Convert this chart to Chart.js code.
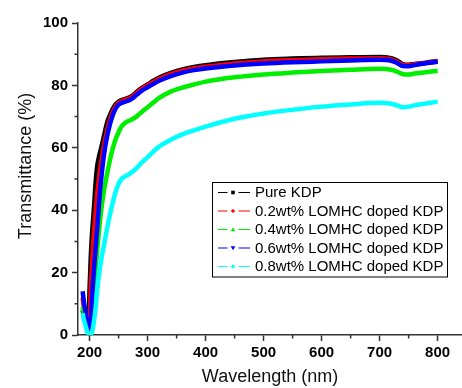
<!DOCTYPE html>
<html>
<head>
<meta charset="utf-8">
<script src="https://cdn.jsdelivr.net/npm/chart.js@4.4.0/dist/chart.umd.min.js"></script>
<style>
  html, body { margin: 0; padding: 0; background: #fff; }
  #wrap { width: 462px; height: 388px; }
</style>
</head>
<body>
<div id="wrap"><canvas id="uvChart" width="462" height="388"></canvas></div>
<script>
// wavelength (nm) and transmittance (%)
let wavelength = [188,190,193,196,198,200,202,204,206,208,210,213,216,220,225,230,235,240,245,250,255,260,265,270,275,280,285,290,300,310,320,340,360,380,400,450,500,550,600,650,700,720,730,740,750,760,780,800];
let pureKDP = [8,6,4,2,3,15,25,32,37,42,48,54,57,60,64,68,70.5,72.5,74,74.8,75.3,75.6,75.9,76.3,76.9,77.7,78.5,79.2,80.3,81.5,82.5,84,85.1,85.9,86.5,87.5,88.2,88.6,88.9,89,89.1,88.7,88,86.8,86.6,86.9,87.3,87.8];
let doped02 = [12,9,6,3,1.5,5,15,22,29,34,38.5,45,50,55.5,61,65.5,69,71.5,73.3,74.4,75,75.3,75.6,76,76.6,77.4,78.2,78.9,80,81.1,82.1,83.6,84.7,85.5,86,87,87.7,88.1,88.4,88.6,88.7,88.3,87.6,86.6,86.5,86.8,87.2,87.7];
let doped04 = [9,7,5,2.5,1,0.8,2,5,10,15,20,27,33,40,46.5,51.5,56,59.8,62.8,65,66.8,67.8,68.4,68.8,69.3,69.9,70.7,71.5,73,74.5,76,78,79.3,80.3,81.2,82.6,83.5,84.1,84.6,85,85.3,85,84.4,83.6,83.5,83.8,84.2,84.7];
let doped06 = [14,11,7,3,1.5,1,4,11,17,22,27,34,41.5,50,58,63.5,67.5,70.5,72.6,73.8,74.4,74.7,75,75.4,76,76.8,77.6,78.3,79.4,80.5,81.5,83,84.1,84.9,85.4,86.4,87,87.4,87.7,88,88.2,87.9,87.2,86.2,86.1,86.5,87.1,87.6];
let doped08 = [7,5,3,1,0.5,0.3,0.3,0.8,2.5,5,8,14,19,24,29,34,38.5,42.5,46,48.5,50,50.7,51.2,51.8,52.5,53.3,54.3,55.3,57,58.8,60.4,62.6,64.3,65.6,66.8,69.3,71,72.2,73.2,73.9,74.4,74.1,73.6,73,73.2,73.6,74.2,74.8];

let seriesNames = ['Pure KDP', '0.2wt% LOMHC doped KDP', '0.4wt% LOMHC doped KDP', '0.6wt% LOMHC doped KDP', '0.8wt% LOMHC doped KDP'];
let seriesColors = ['#000000', '#ff0000', '#00ee00', '#0000ff', '#00ffff'];
let seriesMarkers = ['square', 'circle', 'triUp', 'triDown', 'diamond'];
let xTicks = [200, 300, 400, 500, 600, 700, 800];
let xMinor = [250, 350, 450, 550, 650, 750];
let yMinor = [10, 30, 50, 70, 90];

let allSeries = [pureKDP, doped02, doped04, doped06, doped08];

function toPoints(arr) {
  return wavelength.map(function (w, i) { return {x: w, y: arr[i]}; });
}

let datasets = allSeries.map(function (arr, i) {
  return {
    label: seriesNames[i],
    data: toPoints(arr),
    borderColor: seriesColors[i],
    backgroundColor: seriesColors[i],
    borderWidth: 4.5,
    pointRadius: 0,
    cubicInterpolationMode: 'monotone',
    order: allSeries.length - i
  };
});

// minor ticks, y title and the boxed legend
let extras = {
  id: 'extras',
  afterDraw: function (chart) {
    let ctx = chart.ctx;
    let xs = chart.scales.x, ys = chart.scales.y;
    let area = chart.chartArea;
    ctx.save();
    ctx.strokeStyle = '#333';
    ctx.lineWidth = 1.5;
    ctx.beginPath();
    yMinor.forEach(function (v) {
      let py = ys.getPixelForValue(v);
      ctx.moveTo(area.left - 3.5, py);
      ctx.lineTo(area.left, py);
    });
    xMinor.forEach(function (v) {
      let px = xs.getPixelForValue(v);
      ctx.moveTo(px, area.bottom);
      ctx.lineTo(px, area.bottom + 3.5);
    });
    ctx.stroke();

    // y axis title
    ctx.fillStyle = '#111';
    ctx.font = '18px "Liberation Sans", Arial, sans-serif';
    ctx.textAlign = 'center';
    ctx.textBaseline = 'middle';
    ctx.translate(26, 166);
    ctx.rotate(-Math.PI / 2);
    ctx.fillText('Transmittance (%)', 0, 0);
    ctx.restore();

    // legend
    ctx.save();
    let bx = 212.5, by = 182.5, bw = 235, bh = 94.5;
    ctx.fillStyle = '#fff';
    ctx.fillRect(bx, by, bw, bh);
    ctx.strokeStyle = '#000';
    ctx.lineWidth = 1;
    ctx.strokeRect(bx, by, bw, bh);
    ctx.font = '15px "Liberation Sans", Arial, sans-serif';
    ctx.textAlign = 'left';
    ctx.textBaseline = 'middle';
    seriesNames.forEach(function (name, i) {
      let ry = 192.5 + i * 18.5;
      ctx.strokeStyle = seriesColors[i];
      ctx.fillStyle = seriesColors[i];
      ctx.lineWidth = 1;
      ctx.beginPath();
      ctx.moveTo(218, ry); ctx.lineTo(227.5, ry);
      ctx.moveTo(238.5, ry); ctx.lineTo(250, ry);
      ctx.stroke();
      let mx = 233, s = 1.8;
      ctx.beginPath();
      if (seriesMarkers[i] === 'square') {
        ctx.rect(mx - s, ry - s, 2 * s, 2 * s);
      } else if (seriesMarkers[i] === 'circle') {
        ctx.arc(mx, ry, s, 0, Math.PI * 2);
      } else if (seriesMarkers[i] === 'triUp') {
        ctx.moveTo(mx, ry - s - 0.5); ctx.lineTo(mx + s + 0.5, ry + s); ctx.lineTo(mx - s - 0.5, ry + s);
      } else if (seriesMarkers[i] === 'triDown') {
        ctx.moveTo(mx, ry + s + 0.5); ctx.lineTo(mx + s + 0.5, ry - s); ctx.lineTo(mx - s - 0.5, ry - s);
      } else {
        ctx.moveTo(mx, ry - s - 0.5); ctx.lineTo(mx + s + 0.5, ry); ctx.lineTo(mx, ry + s + 0.5); ctx.lineTo(mx - s - 0.5, ry);
      }
      ctx.closePath();
      ctx.fill();
      ctx.fillStyle = '#000';
      ctx.fillText(name, 255, ry + 0.5);
    });
    ctx.restore();
  }
};

let uvChart = new Chart(document.getElementById('uvChart'), {
  type: 'line',
  data: { datasets: datasets },
  options: {
    responsive: false,
    animation: false,
    devicePixelRatio: 1,
    layout: { padding: { top: 23, right: 0, left: 0, bottom: 0 } },
    plugins: { legend: { display: false }, tooltip: { enabled: false } },
    scales: {
      x: {
        type: 'linear',
        min: 180,
        max: 842,
        afterBuildTicks: function (axis) {
          axis.ticks = xTicks.map(function (v) { return {value: v}; });
        },
        afterFit: function (axis) { axis.height = 53; },
        grid: { drawOnChartArea: false, tickLength: 6, tickColor: '#333', tickWidth: 1.5 },
        border: { display: true, color: '#333', width: 1.5 },
        ticks: {
          color: '#000',
          padding: 3,
          maxRotation: 0,
          font: { family: '"Liberation Sans", Arial, sans-serif', size: 15, weight: 'bold' }
        },
        title: {
          display: true,
          text: 'Wavelength (nm)',
          color: '#111',
          padding: { top: 0, bottom: 0 },
          font: { family: '"Liberation Sans", Arial, sans-serif', size: 18 }
        }
      },
      y: {
        min: 0,
        max: 100,
        afterFit: function (axis) { axis.width = 78; },
        grid: { drawOnChartArea: false, tickLength: 6, tickColor: '#333', tickWidth: 1.5 },
        border: { display: true, color: '#333', width: 1.5 },
        ticks: {
          stepSize: 20,
          color: '#000',
          padding: 4,
          font: { family: '"Liberation Sans", Arial, sans-serif', size: 15, weight: 'bold' }
        }
      }
    }
  },
  plugins: [extras]
});
</script>
</body>
</html>
